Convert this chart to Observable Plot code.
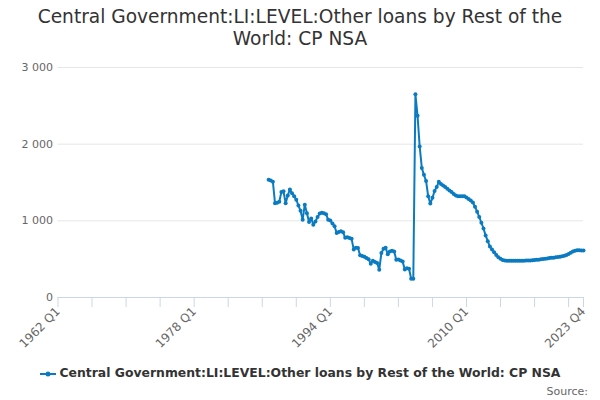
<!DOCTYPE html>
<html><head><meta charset="utf-8">
<script src="https://cdn.jsdelivr.net/npm/d3@7"></script>
<script src="https://cdn.jsdelivr.net/npm/@observablehq/plot@0.6"></script>
<style>
body{margin:0;background:#fff;font-family:"DejaVu Sans",sans-serif;}
#wrap{position:relative;width:600px;height:400px;overflow:hidden;background:#fff;}
#title{position:absolute;top:6px;left:0;width:600px;text-align:center;font-size:18.6px;line-height:22px;color:#333;}
#chart{position:absolute;top:51px;left:0;}
#legend{position:absolute;top:365px;left:0;width:600px;text-align:center;font-size:12.4px;font-weight:bold;color:#333;white-space:nowrap;}
#legend svg{vertical-align:middle;margin-right:4px;}
#source{position:absolute;top:385px;right:12px;font-size:11px;color:#666;}
</style></head>
<body>
<div id="wrap">
  <div id="title"></div>
  <div id="chart"></div>
  <div id="legend"></div>
  <div id="source"></div>
</div>
<script>
const titleLines = ["Central Government:LI:LEVEL:Other loans by Rest of the", "World: CP NSA"];
const seriesName = "Central Government:LI:LEVEL:Other loans by Rest of the World: CP NSA";
const sourceText = "Source:";
const lineColor = "#0b7bc1";

// quarterly series starting 1986 Q4, ending 2023 Q4
const startYear = 1986;
const startQuarter = 4;
const values = [
  1535,1525,1510,1230,1235,1250,1375,1385,1230,1330,1410,1360,
  1320,1275,1200,1130,1015,1210,1100,985,1030,950,990,1050,
  1095,1105,1100,1085,1015,1005,965,930,840,855,865,850,
  780,785,775,765,625,648,645,550,540,530,515,500,
  440,480,462,450,362,580,635,648,565,600,610,600,
  492,495,482,468,365,382,374,244,244,2650,2370,1970,
  1690,1600,1520,1320,1225,1300,1390,1440,1510,1480,1460,1440,
  1420,1395,1375,1350,1330,1320,1320,1320,1320,1305,1285,1265,
  1240,1185,1120,1050,975,900,810,735,665,625,590,555,
  525,505,490,483,480,479,478,478,479,480,480,480,
  480,481,482,484,486,488,491,494,498,502,506,510,
  514,517,520,524,528,533,538,545,553,568,584,600,
  610,615,615,614,613
];

const xDomain = [1962, 2023.75];
const xTicks = [1962,1966,1970,1974,1978,1982,1986,1990,1994,1998,2002,2006,2010,2014,2018,2022,2023.75];
const xLabelTicks = [1962, 1978, 1994, 2010, 2023.75];
const xLabels = ["1962 Q1", "1978 Q1", "1994 Q1", "2010 Q1", "2023 Q4"];
const yTicks = [0, 1000, 2000, 3000];
const yLabels = ["0", "1 000", "2 000", "3 000"];

const data = values.map((v, i) => ({t: startYear + (startQuarter - 1) / 4 + i / 4, v}));

document.getElementById("title").innerHTML = titleLines.join("<br>");

const chart = Plot.plot({
  width: 600,
  height: 309,
  marginLeft: 57.5,
  marginRight: 17,
  marginTop: 16,
  marginBottom: 63,
  x: {domain: xDomain},
  y: {domain: [0, 3000]},
  style: {fontFamily: "DejaVu Sans", fontSize: "11px", color: "#666", background: "#fff"},
  marks: [
    Plot.gridY(yTicks.slice(1), {stroke: "#e6e6e6", strokeOpacity: 1}),
    Plot.axisY(yTicks, {tickSize: 0, tickPadding: 5, tickFormat: d => yLabels[yTicks.indexOf(d)], fill: "#666", label: null}),
    Plot.ruleY([0], {stroke: "#ccd6eb"}),
    Plot.axisX(xTicks, {tickSize: 10, stroke: "#ccd6eb", strokeOpacity: 1, tickFormat: () => "", label: null}),
    Plot.axisX(xLabelTicks, {tickSize: 0, tickPadding: 12, tickRotate: -45, dx: 0, fontSize: "12px", tickFormat: d => xLabels[xLabelTicks.indexOf(d)], fill: "#666", label: null}),
    Plot.line(data, {x: "t", y: "v", stroke: lineColor, strokeWidth: 2}),
    Plot.dot(data, {x: "t", y: "v", r: 2, fill: lineColor})
  ]
});
document.getElementById("chart").appendChild(chart);

document.getElementById("legend").innerHTML =
  '<svg width="16" height="10"><line x1="0" y1="5" x2="16" y2="5" stroke="' + lineColor + '" stroke-width="2"/><circle cx="8" cy="5" r="2.5" fill="' + lineColor + '"/></svg>' +
  '<span></span>';
document.querySelector("#legend span").textContent = seriesName;
document.getElementById("source").textContent = sourceText;
</script>
</body></html>
